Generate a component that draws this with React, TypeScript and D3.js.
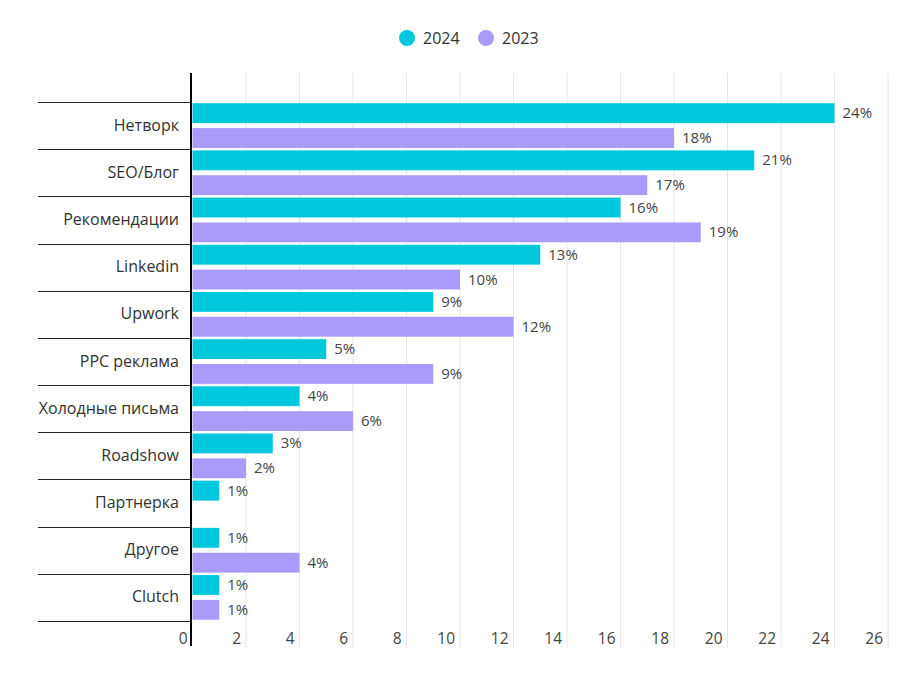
import React from "react";
import * as d3 from "d3";

const categories = ["Нетворк", "SEO/Блог", "Рекомендации", "Linkedin", "Upwork", "PPC реклама", "Холодные письма", "Roadshow", "Партнерка", "Другое", "Clutch"];
const values2024: (number | null)[] = [24, 21, 16, 13, 9, 5, 4, 3, 1, 1, 1];
const values2023: (number | null)[] = [18, 17, 19, 10, 12, 9, 6, 2, null, 4, 1];
const seriesNames = ["2024", "2023"];
const seriesColors = ["#00C8DC", "#AA9BFA"];
const xTicks = [0, 2, 4, 6, 8, 10, 12, 14, 16, 18, 20, 22, 24, 26];

export default function App() {
  const W = 922, H = 682;
  const x = d3.scaleLinear().domain([0, 26]).range([192.5, 888]);
  const y = d3.scaleBand().domain(categories).range([102, 621]).paddingInner(0).paddingOuter(0);
  const inner = d3.scaleBand().domain(seriesNames).range([0, y.bandwidth()]).paddingInner(0.2).paddingOuter(0.05);
  const font = "'Open Sans', 'Noto Sans', sans-serif";
  const series = [values2024, values2023];
  return (
    <svg width={W} height={H} style={{ position: "absolute", left: 0, top: 0 }} fontFamily={font}>
      <rect width={W} height={H} fill="#fff" />
      {xTicks.map((t) => t > 0 && (
        <line key={"g" + t} x1={x(t)} x2={x(t)} y1={73} y2={648} stroke="#e6e6e6" strokeWidth={1} />
      ))}
      {xTicks.map((t) => (
        <text key={"t" + t} x={x(t) - 5} y={644} textAnchor="end" fontSize={15.5} fill="#444">{t}</text>
      ))}
      {categories.map((c, i) => (
        <g key={c}>
          <text x={179} y={(y(c) as number) + y.bandwidth() / 2 + 5} textAnchor="end" fontSize={16} fill="#333">{c}</text>
          {series.map((s, si) => {
            const v = s[i];
            if (v == null) return null;
            const by = (y(c) as number) + (inner(seriesNames[si]) as number);
            return (
              <g key={si}>
                <rect x={x(0)} y={by} width={x(v) - x(0)} height={inner.bandwidth()} fill={seriesColors[si]} />
                <text x={x(v) + 8} y={by + inner.bandwidth() / 2 + 5} fontSize={15} fill="#444">{v}%</text>
              </g>
            );
          })}
        </g>
      ))}
      {[...categories.map((c) => y(c) as number), 621].map((yy, i) => (
        <line key={"s" + i} x1={38} x2={191} y1={Math.round(yy) + 0.5} y2={Math.round(yy) + 0.5} stroke="#222" strokeWidth={1} />
      ))}
      <line x1={191} x2={191} y1={73} y2={646} stroke="#000" strokeWidth={2} />
      {seriesNames.map((n, i) => (
        <g key={n} transform={`translate(${407 + i * 79},38)`}>
          <circle r={8} fill={seriesColors[i]} />
          <text x={16} y={6} fontSize={16} fill="#333">{n}</text>
        </g>
      ))}
    </svg>
  );
}
